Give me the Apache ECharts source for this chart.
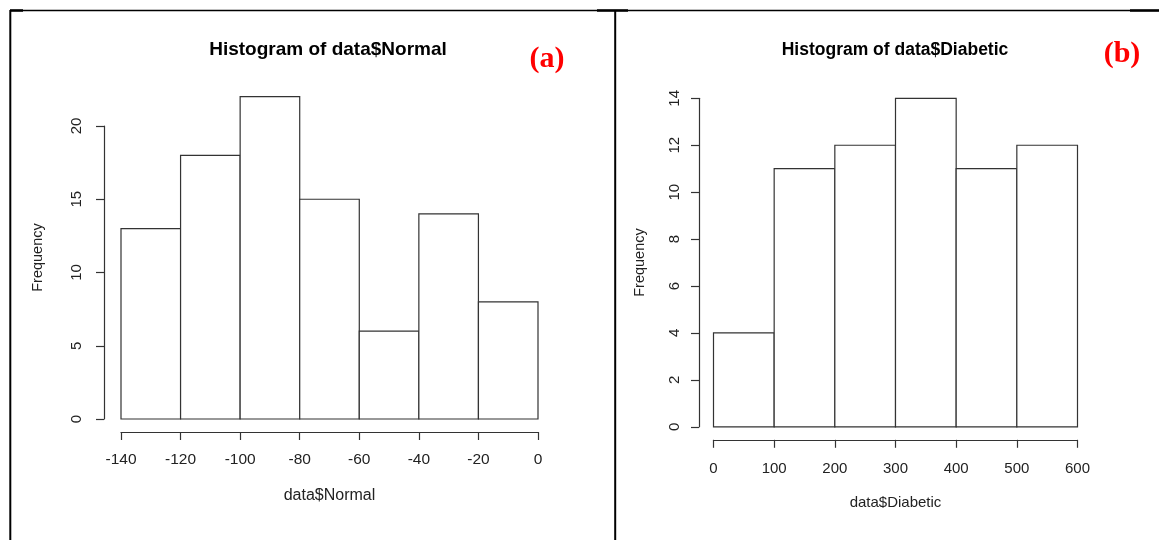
<!DOCTYPE html>
<html>
<head>
<meta charset="utf-8">
<script src="https://cdn.jsdelivr.net/npm/echarts@6/dist/echarts.min.js"></script>
<style>
  html, body { margin: 0; padding: 0; background: #fff; }
  #main { width: 1159px; height: 540px; }
</style>
</head>
<body>
<div id="main"></div>
<script>
// bin edges and counts
var normalEdges = [-140, -120, -100, -80, -60, -40, -20, 0];
var normalCounts = [13, 18, 22, 15, 6, 14, 8];
var diabeticEdges = [0, 100, 200, 300, 400, 500, 600];
var diabeticCounts = [4, 11, 12, 14, 11, 12];

function bins(edges, counts) {
    var out = [];
    for (var i = 0; i < counts.length; i++) {
        out.push([edges[i], edges[i + 1], counts[i]]);
    }
    return out;
}

function renderBar(params, api) {
    var p0 = api.coord([api.value(0), 0]);
    var p1 = api.coord([api.value(1), api.value(2)]);
    return {
        type: 'rect',
        shape: { x: p0[0], y: p1[1], width: p1[0] - p0[0], height: p0[1] - p1[1] },
        style: { fill: '#fff', stroke: '#333', lineWidth: 1.2 }
    };
}

var axisFont = 'Liberation Sans, Arial, sans-serif';
var lineStyle = { color: '#333', width: 1.2 };

function xAx(idx, min, max, step, name, fs, margin, nfs, gap) {
    return {
        type: 'value', gridIndex: idx, min: min, max: max, interval: step,
        offset: 13,
        splitLine: { show: false },
        axisLine: { onZero: false, lineStyle: lineStyle },
        axisTick: { length: 8, lineStyle: lineStyle },
        axisLabel: { color: '#222', fontSize: fs, fontFamily: axisFont, margin: margin },
        name: name, nameLocation: 'middle', nameGap: gap,
        nameTextStyle: { color: '#222', fontSize: nfs, fontFamily: axisFont }
    };
}

function yAx(idx, min, max, step, offset, margin, gap, pad) {
    return {
        type: 'value', gridIndex: idx, min: min, max: max, interval: step,
        offset: offset,
        splitLine: { show: false },
        axisLine: { show: true, onZero: false, lineStyle: lineStyle },
        axisTick: { show: true, length: 8, lineStyle: lineStyle },
        axisLabel: { color: '#222', fontSize: 15, fontFamily: axisFont, rotate: 90, margin: margin },
        name: 'Frequency', nameLocation: 'middle', nameGap: gap,
        nameTextStyle: { color: '#222', fontSize: 14.5, fontFamily: axisFont, padding: [0, 0, 0, pad] }
    };
}

var chart = echarts.init(document.getElementById('main'));
chart.setOption({
    backgroundColor: '#fff',
    animation: false,
    title: [
        { text: 'Histogram of data$Normal', left: 323, top: 35, textAlign: 'center',
          textStyle: { fontSize: 19, fontWeight: 'bold', color: '#000', fontFamily: axisFont } },
        { text: 'Histogram of data$Diabetic', left: 890, top: 36, textAlign: 'center',
          textStyle: { fontSize: 17.5, fontWeight: 'bold', color: '#000', fontFamily: axisFont } },
        { text: '(a)', left: 542, top: 39, textAlign: 'center',
          textStyle: { fontSize: 30, fontWeight: 'bold', color: '#ff0000', fontFamily: 'Liberation Serif, Times New Roman, serif' } },
        { text: '(b)', left: 1117, top: 34, textAlign: 'center',
          textStyle: { fontSize: 30, fontWeight: 'bold', color: '#ff0000', fontFamily: 'Liberation Serif, Times New Roman, serif' } }
    ],
    grid: [
        { left: 121, top: 126, width: 417, height: 293 },
        { left: 713.5, top: 98.3, width: 364, height: 328.5 }
    ],
    xAxis: [
        xAx(0, -140, 0, 20, 'data$Normal', 15.5, 20, 16, 56),
        xAx(1, 0, 600, 100, 'data$Diabetic', 15, 22, 15, 56)
    ],
    yAxis: [
        yAx(0, 0, 20, 5, 17, 20, 59, 30),
        yAx(1, 0, 14, 2, 14.5, 17, 52, 0)
    ],
    series: [
        { type: 'custom', xAxisIndex: 0, yAxisIndex: 0, clip: false,
          encode: { x: [0, 1], y: 2 }, renderItem: renderBar,
          data: bins(normalEdges, normalCounts) },
        { type: 'custom', xAxisIndex: 1, yAxisIndex: 1, clip: false,
          encode: { x: [0, 1], y: 2 }, renderItem: renderBar,
          data: bins(diabeticEdges, diabeticCounts) }
    ],
    graphic: [
        { type: 'line', shape: { x1: 10, y1: 10.5, x2: 1159, y2: 10.5 }, style: { stroke: '#000', lineWidth: 1.5 } },
        { type: 'line', shape: { x1: 10, y1: 10.5, x2: 23, y2: 10.5 }, style: { stroke: '#000', lineWidth: 2.5 } },
        { type: 'line', shape: { x1: 597, y1: 10.5, x2: 628, y2: 10.5 }, style: { stroke: '#000', lineWidth: 2.5 } },
        { type: 'line', shape: { x1: 1130, y1: 10.5, x2: 1159, y2: 10.5 }, style: { stroke: '#000', lineWidth: 2.5 } },
        { type: 'line', shape: { x1: 10.3, y1: 10, x2: 10.3, y2: 540 }, style: { stroke: '#000', lineWidth: 2 } },
        { type: 'line', shape: { x1: 615.2, y1: 10, x2: 615.2, y2: 540 }, style: { stroke: '#000', lineWidth: 2 } }
    ]
});
</script>
</body>
</html>
